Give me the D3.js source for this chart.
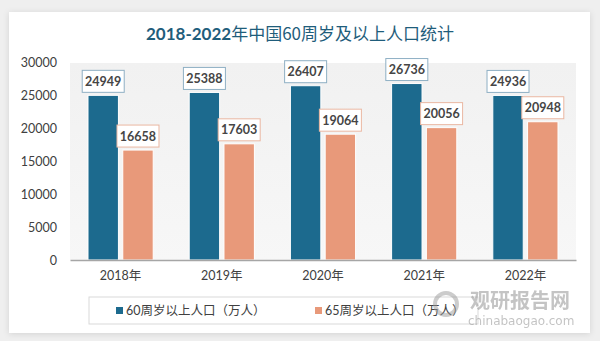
<!DOCTYPE html>
<html>
<head>
<meta charset="utf-8">
<script src="https://cdn.jsdelivr.net/npm/d3@7"></script>
<style>
  html, body { margin: 0; padding: 0; background: #efefef; }
  svg { display: block; }
  text { font-family: Lato, "Noto Sans CJK SC", sans-serif; }
</style>
</head>
<body>
<svg id="chart"></svg>
<script>
const years = ["2018年", "2019年", "2020年", "2021年", "2022年"]
const series = ["60周岁以上人口（万人）", "65周岁以上人口（万人）"]
const over60 = [24949, 25388, 26407, 26736, 24936]
const over65 = [16658, 17603, 19064, 20056, 20948]
const yTicks = [0, 5000, 10000, 15000, 20000, 25000, 30000]

const width = 600
const height = 341
const colors = ["#1c6a8e", "#e8997a"]
const borders = ["#8fb0c4", "#eab7a2"]

const svg = d3.select("#chart").attr("width", width).attr("height", height)

// card with soft shadow
const defs = svg.append("defs")
const shadow = defs.append("filter").attr("id", "shadow")
  .attr("x", "-5%").attr("y", "-5%").attr("width", "110%").attr("height", "110%")
shadow.append("feDropShadow")
  .attr("dx", 0).attr("dy", 1).attr("stdDeviation", 3)
  .attr("flood-color", "#000").attr("flood-opacity", 0.12)

const grad = defs.append("linearGradient").attr("id", "plotbg")
  .attr("x1", 0).attr("y1", 0).attr("x2", 0).attr("y2", 1)
grad.append("stop").attr("offset", "0%").attr("stop-color", "#f1f1f1")
grad.append("stop").attr("offset", "100%").attr("stop-color", "#f7f7f7")

svg.append("rect")
  .attr("x", 9).attr("y", 12).attr("width", 581).attr("height", 321)
  .attr("fill", "#fff")
  .attr("filter", "url(#shadow)")

// title: digits bold, chinese lighter
const title = svg.append("text")
  .attr("x", 300).attr("y", 40)
  .attr("text-anchor", "middle")
  .style("font-size", "17px")
  .style("fill", "#1f5d7b")
title.append("tspan").style("font-weight", "bold").text("2018-2022")
title.append("tspan").style("font-family", "'Noto Sans CJK SC', sans-serif").text("年中国60周岁及以上人口统计")

const plot = { left: 70, right: 576, top: 62, bottom: 260 }

const x = d3.scaleBand().domain(years).range([plot.left, plot.right])
const xInner = d3.scaleBand().domain([0, 1]).range([18, x.bandwidth() - 18]).paddingInner(0.125)
const y = d3.scaleLinear().domain([0, 30000]).range([plot.bottom, plot.top])

// plot background
svg.append("rect")
  .attr("x", plot.left).attr("y", y(30000) + 1)
  .attr("width", plot.right - plot.left).attr("height", plot.bottom - y(30000) - 1)
  .attr("fill", "url(#plotbg)")

// y axis labels
const yAxis = d3.axisLeft(y).tickValues(yTicks).tickFormat(d3.format("d")).tickSize(0).tickPadding(0)
const yG = svg.append("g").attr("transform", "translate(57,0)").call(yAxis)
yG.select(".domain").remove()
yG.selectAll("text")
  .style("font-size", "12.5px")
  .style("fill", "#404040")
  .style("font-family", "Lato, 'Noto Sans CJK SC', sans-serif")

// bars
const valuesBySeries = [over60, over65]
valuesBySeries.forEach((vals, s) => {
  svg.append("g").selectAll("rect")
    .data(vals)
    .join("rect")
    .attr("x", (d, i) => x(years[i]) + xInner(s))
    .attr("y", d => y(d))
    .attr("width", xInner.bandwidth())
    .attr("height", d => plot.bottom - y(d))
    .attr("fill", colors[s])
    .attr("stroke", "#fff")
    .attr("stroke-width", 1)
})

// x axis
const xAxis = d3.axisBottom(x).tickSize(0).tickPadding(11)
const xG = svg.append("g").attr("transform", `translate(0,${plot.bottom})`).call(xAxis)
xG.select(".domain").attr("stroke", "#a6a6a6").attr("stroke-width", 1.5)
xG.selectAll("text")
  .style("font-size", "12.5px")
  .style("fill", "#404040")
  .style("font-family", "Lato, 'Noto Sans CJK SC', sans-serif")

// value labels in boxes
valuesBySeries.forEach((vals, s) => {
  const lg = svg.append("g").selectAll("g")
    .data(vals)
    .join("g")
    .attr("transform", (d, i) =>
      `translate(${x(years[i]) + xInner(s) + xInner.bandwidth() / 2},${y(d) - 14})`)
  lg.append("rect")
    .attr("x", -21).attr("y", -11)
    .attr("width", 42).attr("height", 22)
    .attr("fill", "#fff")
    .attr("stroke", borders[s])
    .attr("stroke-width", 1)
  lg.append("text")
    .attr("y", 4.5)
    .attr("text-anchor", "middle")
    .style("font-size", "12.5px")
    .style("font-weight", "bold")
    .style("fill", "#454545")
    .text(d => d)
})

// legend
svg.append("rect")
  .attr("x", 89).attr("y", 297).attr("width", 389).attr("height", 27)
  .attr("fill", "#fff").attr("stroke", "#d9d9d9")
const legendX = [116, 315]
series.forEach((name, s) => {
  svg.append("rect")
    .attr("x", legendX[s]).attr("y", 307)
    .attr("width", 7).attr("height", 7)
    .attr("fill", colors[s])
  svg.append("text")
    .attr("x", legendX[s] + 10).attr("y", 315)
    .style("font-size", "12.5px")
    .style("fill", "#404040")
    .text(name)
})

// watermark
const wm = svg.append("g").attr("opacity", 0.5)
wm.append("circle").attr("cx", 446).attr("cy", 304).attr("r", 11)
  .attr("fill", "none").attr("stroke", "#9a9a9a").attr("stroke-width", 4)
wm.append("text")
  .attr("x", 470).attr("y", 308)
  .style("font-size", "20px").style("font-weight", "bold")
  .style("font-family", "'Noto Sans CJK SC', sans-serif")
  .style("fill", "#8a8a8a")
  .text("观研报告网")
wm.append("text")
  .attr("x", 468).attr("y", 325)
  .style("font-size", "12px")
  .style("font-family", "'DejaVu Sans', sans-serif")
  .style("fill", "#8a8a8a")
  .text("chinabaogao.com")
</script>
</body>
</html>
